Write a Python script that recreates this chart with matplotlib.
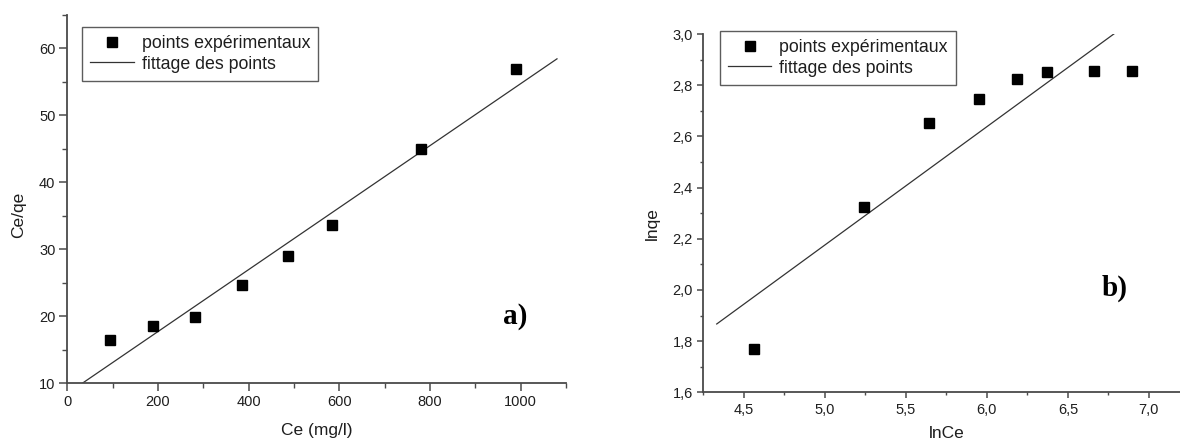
import matplotlib
matplotlib.use("Agg")
import matplotlib.pyplot as plt
import numpy as np
from matplotlib.ticker import FixedLocator, MultipleLocator

# --- data -------------------------------------------------------------
ce = [94.7, 190.0, 282.8, 384.8, 486.8, 583.0, 780.2, 989.9]
ce_over_qe = [16.47, 18.56, 19.95, 24.69, 29.02, 33.70, 45.01, 56.97]
fit_a_slope, fit_a_intercept = 0.04628, 8.47
fit_a_range = [33.0, 1080.0]

ln_ce = [4.563, 5.239, 5.644, 5.953, 6.188, 6.369, 6.658, 6.897]
ln_qe = [1.768, 2.323, 2.654, 2.747, 2.823, 2.853, 2.856, 2.856]
fit_b_slope, fit_b_intercept = 0.4624, -0.1366
fit_b_range = [4.333, 6.790]

a_xticks = [0, 200, 400, 600, 800, 1000]
a_xlabels = ["0", "200", "400", "600", "800", "1000"]
a_yticks = [10, 20, 30, 40, 50, 60]
a_ylabels = ["10", "20", "30", "40", "50", "60"]

b_xticks = [4.5, 5.0, 5.5, 6.0, 6.5, 7.0]
b_xlabels = ["4,5", "5,0", "5,5", "6,0", "6,5", "7,0"]
b_yticks = [1.6, 1.8, 2.0, 2.2, 2.4, 2.6, 2.8, 3.0]
b_ylabels = ["1,6", "1,8", "2,0", "2,2", "2,4", "2,6", "2,8", "3,0"]

legend_labels = ["points expérimentaux", "fittage des points"]

# --- style ------------------------------------------------------------
plt.rcParams["font.family"] = ["Liberation Sans", "DejaVu Sans"]
INK = "#1e1e1e"
AXIS = "#4a4a4a"

fig = plt.figure(figsize=(11.8, 4.41), dpi=100)
ax_a = fig.add_axes([0.0570, 0.1308, 0.4227, 0.8352])
ax_b = fig.add_axes([0.5960, 0.1104, 0.4120, 0.8125])


def style_axes(ax, major_len, minor_len):
    for side in ("top", "right"):
        ax.spines[side].set_visible(False)
    for side in ("left", "bottom"):
        ax.spines[side].set_color(AXIS)
        ax.spines[side].set_linewidth(1.3)
    ax.tick_params(which="major", direction="out", length=major_len, width=1.1,
                   color=AXIS, labelsize=10.5, labelcolor=INK, pad=3)
    ax.tick_params(which="minor", direction="out", length=minor_len, width=1.0,
                   color=AXIS)
    ax.set_facecolor("white")


def draw_panel(ax, x, y, slope, intercept, xr, anchor):
    xs = np.array(xr)
    ax.plot(x, y, linestyle="none", marker="s", markersize=7.4,
            color="black", label=legend_labels[0], zorder=3)
    ax.plot(xs, slope * xs + intercept, color="#333333", linewidth=0.9,
            label=legend_labels[1], zorder=2)
    leg = ax.legend(loc="upper left", fontsize=12.8, frameon=True,
                    fancybox=False, handlelength=2.45, handletextpad=0.45,
                    borderpad=0.45, labelspacing=0.22, borderaxespad=0,
                    bbox_to_anchor=anchor)
    frame = leg.get_frame()
    frame.set_edgecolor("#333333")
    frame.set_linewidth(1.0)
    for t in leg.get_texts():
        t.set_color(INK)
    return leg


# panel a) : Ce/qe versus Ce
style_axes(ax_a, 5.5, 3.5)
draw_panel(ax_a, ce, ce_over_qe, fit_a_slope, fit_a_intercept, fit_a_range,
           (0.03, 0.968))
ax_a.set_xlim(0, 1100)
ax_a.set_ylim(10, 65)
ax_a.xaxis.set_major_locator(FixedLocator(a_xticks))
ax_a.set_xticklabels(a_xlabels)
ax_a.xaxis.set_minor_locator(MultipleLocator(100))
ax_a.yaxis.set_major_locator(FixedLocator(a_yticks))
ax_a.set_yticklabels(a_ylabels)
ax_a.yaxis.set_minor_locator(MultipleLocator(5))
ax_a.set_xlabel("Ce (mg/l)", fontsize=12.5, color=INK)
ax_a.set_ylabel("Ce/qe", fontsize=12.5, color=INK)
ax_a.xaxis.set_label_coords(0.501, -0.127)
ax_a.yaxis.set_label_coords(-0.097, 0.457)
ax_a.xaxis.label.set_va("center")
ax_a.yaxis.label.set_va("center")
ax_a.text(0.899, 0.181, "a)", transform=ax_a.transAxes, fontsize=21,
          fontweight="bold", family=["Liberation Serif", "DejaVu Serif"],
          ha="center", va="center", color="black")

# panel b) : ln qe versus ln Ce
style_axes(ax_b, 4.5, 2.5)
draw_panel(ax_b, ln_ce, ln_qe, fit_b_slope, fit_b_intercept, fit_b_range,
           (0.034, 1.009))
ax_b.set_xlim(4.25, 7.25)
ax_b.set_ylim(1.6, 3.0)
ax_b.xaxis.set_major_locator(FixedLocator(b_xticks))
ax_b.set_xticklabels(b_xlabels)
ax_b.xaxis.set_minor_locator(MultipleLocator(0.25))
ax_b.yaxis.set_major_locator(FixedLocator(b_yticks))
ax_b.set_yticklabels(b_ylabels)
ax_b.yaxis.set_minor_locator(MultipleLocator(0.1))
ax_b.set_xlabel("lnCe", fontsize=12.5, color=INK)
ax_b.set_ylabel("lnqe", fontsize=12.5, color=INK)
ax_b.xaxis.set_label_coords(0.501, -0.114)
ax_b.yaxis.set_label_coords(-0.1055, 0.47)
ax_b.xaxis.label.set_va("center")
ax_b.yaxis.label.set_va("center")
ax_b.text(0.847, 0.291, "b)", transform=ax_b.transAxes, fontsize=21,
          fontweight="bold", family=["Liberation Serif", "DejaVu Serif"],
          ha="center", va="center", color="black")

fig.savefig("out.png", dpi=100, facecolor="white")
